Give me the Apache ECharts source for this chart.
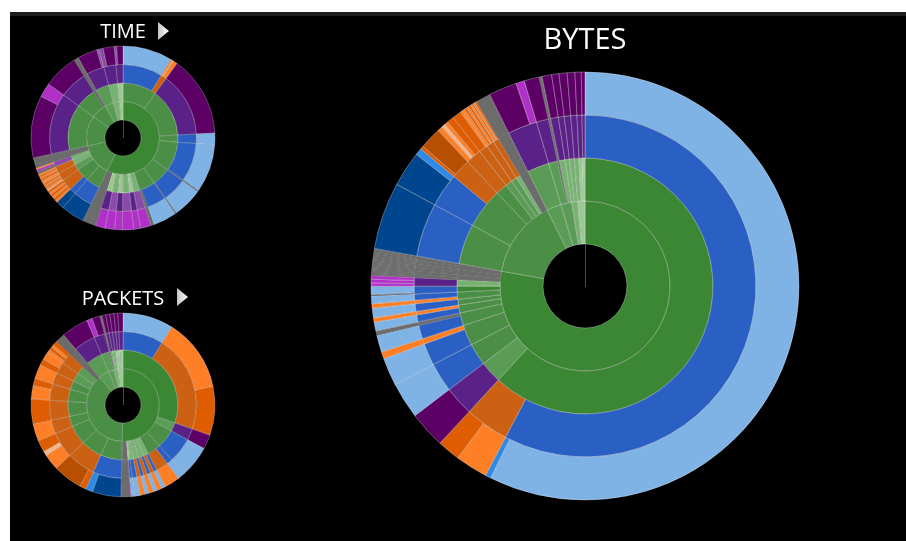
<!DOCTYPE html>
<html>
<head>
<meta charset="utf-8">
<title>Sunbursts</title>
<script src="https://cdn.jsdelivr.net/npm/echarts@6/dist/echarts.min.js"></script>
<style>
  html, body { margin: 0; height: 100%; background: #fff; overflow: hidden; }
  #panel { position: absolute; left: 10px; top: 12px; right: 0; bottom: 0; background: #000; border-top: 4px solid #1e1e1e; }
  #chart { position: absolute; left: 0; top: 0; width: 906px; height: 541px; }
</style>
</head>
<body>
<div id="panel"></div>
<div id="chart"></div>
<script>
const palette = {
  g0: "#3c8734", g1: "#4a8f45", g2: "#5a9c55", g3: "#78b272", g4: "#9cc896",
  lb: "#7fb3e6", b: "#2a5fc4", nv: "#00468f", bb: "#2e8ae6",
  d: "#cc6114", o: "#ff7f27", m: "#e05c00", dk: "#b84e00", pl: "#f5b58c",
  p: "#5a2188", dp: "#5c0066", lp: "#8a4aa8", mg: "#b030c8", gr: "#6c6c6c",
};

// BYTES
const bytesLeaf = [
  206.5, 1.5, 8.8, 6.2, 10, 10, 7.5, 1.9, 4.6, 1.2, 2.4, 1.2, 2.6, 1.2, 2.1, 0.4, 2.2,
  0.9, 1.0, 1.0, 0.6, 0.6, 0.6, 0.6, 0.6, 0.6, 0.6, 0.6, 0.6, 0.6, 0.6, 0.7,
  18.3, 9.6, 1.9, 0.9, 5.9, 1.4, 1.0, 1.0, 1.9, 2.5, 0.6, 0.7, 0.6, 0.7, 0.6, 0.5, 0.4, 0.5, 0.5, 4,
  7.7, 2.3, 4.1, 0.8, 2.6, 2, 2.2, 2.1, 1.7, 1.0,
];
const bytesLeafKind = [
  "lb", "bb", "o", "m", "dp", "lb", "lb", "o", "lb", "gr", "lb", "o", "lb", "o", "lb", "gr", "lb",
  "mg", "mg", "mg", "gr", "gr", "gr", "gr", "gr", "gr", "gr", "gr", "gr", "gr", "gr", "gr",
  "nv", "nv", "bb", "m", "dk", "o", "pl", "o", "m", "m", "o", "o", "m", "o", "m", "o", "m", "o", "m", "gr",
  "dp", "mg", "dp", "gr", "dp", "dp", "dp", "dp", "dp", "dp",
];
const bytesThirdSpan = [
  2, 2, 1, 1, 1, 1, 1, 1, 1, 1, 1, 1, 1, 2, 3, 2, 2, 2, 2, 2, 2,
  1, 2, 2, 4, 2, 4, 4, 1,
  2, 1, 1, 1, 1, 1, 1, 1, 1,
];
const bytesThirdKind = [
  "b", "d", "p", "b", "b", "o", "b", "gr", "b", "o", "b", "o", "b", "b", "p", "gr", "gr", "gr", "gr", "gr", "gr",
  "b", "b", "d", "d", "d", "d", "d", "gr",
  "p", "p", "gr", "p", "p", "p", "p", "p", "p",
];
const bytesSecondSpan = [
  2, 1, 1, 2, 2, 2, 1, 2, 1, 1, 2, 2, 2,
  1, 2, 1, 1, 1, 1, 1,
  1, 1, 1, 1, 1, 1, 1, 1, 1,
];
const bytesSecondKind = [
  "g0", "g2", "g1", "g1", "g1", "g1", "g1", "g1", "g0", "g3", "gr", "gr", "gr",
  "g1", "g1", "g1", "g2", "g2", "g3", "gr",
  "g2", "g2", "gr", "g3", "g3", "g3", "g3", "g4", "g4",
];
const bytesFirstSpan = [13, 7, 1, 3, 2, 3];
const bytesFirstKind = ["g0", "g1", "g2", "g2", "g3", "g4"];

// TIME
const timeLeaf = [
  31.5, 1.2, 0.6, 2.7, 51, 7.5, 30.5, 0.8, 19, 0.7, 15, 2, 6.5, 4.5, 7, 5, 6, 6, 8.5,
  15, 5, 1.5, 1.5, 1.5, 1.5, 1.5, 1.5, 0.8, 1.2, 1, 1.2, 1, 1.2, 1.2, 1.2, 1.2, 1, 1.2, 1.5, 1.5, 1, 6.5,
  39.5, 9, 22, 3, 12.5, 1.5, 2.6, 7, 1.5, 4,
];
const timeLeafKind = [
  "lb", "o", "pl", "o", "dp", "lb", "lb", "gr", "lb", "gr", "lb", "gr", "mg", "mg", "mg", "mg", "mg", "mg", "gr",
  "nv", "nv", "o", "m", "o", "m", "o", "m", "pl", "o", "m", "o", "m", "o", "o", "m", "o", "m", "o", "gr", "mg", "o", "gr",
  "dp", "mg", "dp", "gr", "dp", "lp", "lp", "dp", "lp", "dp",
];
const timeThirdSpan = [
  1, 3, 1, 1, 1, 1, 1, 1, 1, 1, 1, 1, 1, 1, 1, 1, 1,
  1, 1, 6, 6, 5, 3, 1,
  2, 1, 1, 2, 2, 2,
];
const timeThirdKind = [
  "b", "d", "p", "b", "b", "gr", "b", "gr", "b", "gr", "lp", "p", "lp", "p", "lp", "p", "gr",
  "b", "b", "d", "d", "d", "lp", "gr",
  "p", "p", "gr", "p", "p", "p",
];
const timeSecondSpan = [
  2, 1, 1, 2, 2, 2, 1, 1, 1, 1, 1, 1, 1,
  1, 2, 1, 1, 1, 1,
  1, 1, 1, 1, 1, 1,
];
const timeSecondKind = [
  "g1", "g1", "g1", "g1", "g1", "g1", "g3", "g4", "g3", "g4", "g3", "g4", "gr",
  "g1", "g1", "g2", "g3", "g3", "gr",
  "g1", "g1", "gr", "g2", "g3", "g4",
];
const timeFirstSpan = [13, 6, 1, 2, 1, 1, 1];
const timeFirstKind = ["g0", "g1", "g1", "g1", "g2", "g3", "g4"];

// PACKETS
const packetsLeaf = [
  32, 46, 30.6, 9.1, 20, 4.5, 9.7, 2.5, 3, 2.5, 3, 2.5, 3, 3.5, 2, 0.5, 6,
  18, 4.5, 4.1, 18.4, 10, 3, 7.5, 10.9, 15.6, 8.5, 4.5, 9, 4, 5, 2, 2, 2, 2.8, 6,
  17, 3.5, 5, 1.3, 2.4, 2.6, 2.6, 2.4, 3.2,
];
const packetsLeafKind = [
  "lb", "o", "m", "dp", "lb", "lb", "o", "lb", "o", "lb", "o", "lb", "o", "lb", "lb", "mg", "gr",
  "nv", "bb", "m", "dk", "o", "pl", "m", "o", "m", "o", "m", "o", "m", "o", "o", "m", "o", "m", "gr",
  "dp", "mg", "dp", "gr", "dp", "dp", "dp", "dp", "dp",
];
const packetsThirdSpan = [
  1, 2, 1, 1, 1, 1, 1, 1, 1, 1, 1, 1, 1, 1, 1, 1,
  2, 2, 3, 1, 1, 2, 1, 2, 4, 1,
  1, 2, 1, 1, 1, 1, 1, 1,
];
const packetsThirdKind = [
  "b", "d", "p", "b", "b", "d", "b", "d", "b", "d", "b", "d", "b", "b", "p", "gr",
  "b", "d", "d", "d", "d", "d", "d", "d", "d", "gr",
  "p", "p", "gr", "p", "p", "p", "p", "p",
];
const packetsSecondSpan = [
  2, 1, 1, 2, 2, 2, 2, 1, 2, 1,
  1, 1, 1, 1, 1, 1, 1, 1, 1, 1,
  1, 1, 1, 1, 1, 1, 1, 1,
];
const packetsSecondKind = [
  "g0", "g2", "g1", "g1", "g3", "g3", "g3", "g3", "g4", "gr",
  "g1", "g1", "g1", "g1", "g1", "g1", "g1", "g2", "g2", "gr",
  "g2", "g2", "gr", "g3", "g3", "g4", "g4", "g4",
];
const packetsFirstSpan = [10, 10, 1, 1, 3, 3];
const packetsFirstKind = ["g0", "g1", "g2", "g2", "g3", "g4"];

function styleOf(kind) {
  const style = { color: palette[kind] };
  // the grey wedges are made of many hairline slices, keep their seams faint
  if (kind === "gr") style.borderColor = "rgba(255,255,255,0.12)";
  return style;
}

function groupUp(nodes, spans, kinds) {
  let at = 0;
  return spans.map((span, i) => {
    const children = nodes.slice(at, at + span);
    at += span;
    return { name: kinds[i], itemStyle: styleOf(kinds[i]), children };
  });
}

function buildTree(leaf, leafKind, thirdSpan, thirdKind, secondSpan, secondKind, firstSpan, firstKind) {
  const leaves = leaf.map((value, i) => ({
    name: leafKind[i], value, itemStyle: styleOf(leafKind[i]),
  }));
  const third = groupUp(leaves, thirdSpan, thirdKind);
  const second = groupUp(third, secondSpan, secondKind);
  return groupUp(second, firstSpan, firstKind);
}

function sunburst(data, cx, cy, r0, r, borderWidth) {
  return {
    type: "sunburst",
    center: [cx, cy],
    radius: [r0, r],
    startAngle: 90,
    sort: null,
    nodeClick: false,
    silent: true,
    label: { show: false },
    itemStyle: { borderColor: "rgba(255,255,255,0.3)", borderWidth },
    emphasis: { focus: "none" },
    data,
  };
}

function triangle(x, y) {
  return {
    type: "polygon",
    shape: { points: [[x, y], [x + 11, y + 9], [x, y + 18]] },
    style: {
      fill: new echarts.graphic.LinearGradient(0, 0, 1, 0, [
        { offset: 0, color: "#c4c4c4" },
        { offset: 1, color: "#ffffff" },
      ]),
    },
  };
}

function spoke(x, y0, y1) {
  return {
    type: "line",
    shape: { x1: x, y1: y0, x2: x, y2: y1 },
    style: { stroke: "#4a4a4a", lineWidth: 1 },
  };
}

function heading(text, x, y, fontSize) {
  return {
    text,
    left: x,
    top: y,
    padding: 0,
    textAlign: "center",
    textVerticalAlign: "middle",
    textStyle: { color: "#fff", fontFamily: "Open Sans", fontWeight: "normal", fontSize },
  };
}

const chart = echarts.init(document.getElementById("chart"));
chart.setOption({
  backgroundColor: "transparent",
  animation: false,
  title: [
    heading("TIME", 123, 32, 20),
    heading("PACKETS", 123, 299, 20),
    heading("BYTES", 585, 41, 29),
  ],
  graphic: [
    triangle(158, 22), triangle(177, 288),
    spoke(585.5, 244, 287), spoke(123.5, 120, 138), spoke(123.5, 387, 405),
  ],
  series: [
    sunburst(buildTree(bytesLeaf, bytesLeafKind, bytesThirdSpan, bytesThirdKind, bytesSecondSpan, bytesSecondKind, bytesFirstSpan, bytesFirstKind), 585, 286, 42, 214, 1),
    sunburst(buildTree(timeLeaf, timeLeafKind, timeThirdSpan, timeThirdKind, timeSecondSpan, timeSecondKind, timeFirstSpan, timeFirstKind), 123, 138, 18, 92, 0.8),
    sunburst(buildTree(packetsLeaf, packetsLeafKind, packetsThirdSpan, packetsThirdKind, packetsSecondSpan, packetsSecondKind, packetsFirstSpan, packetsFirstKind), 123, 405, 18, 92, 0.8),
  ],
});
</script>
</body>
</html>
